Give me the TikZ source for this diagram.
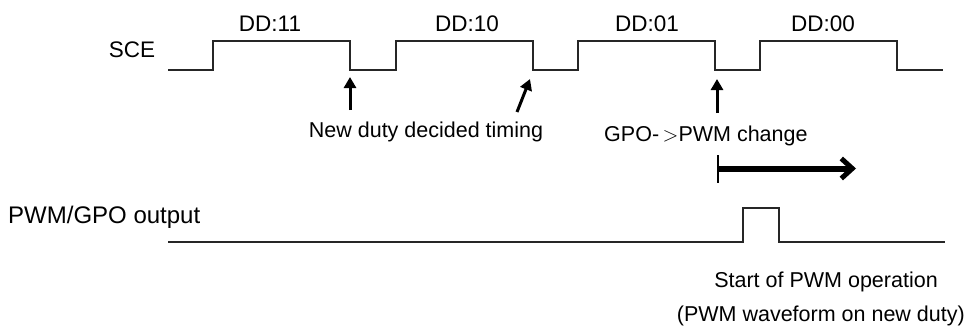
\documentclass[tikz,border=0pt]{standalone}
\usepackage{fontspec}
\setmainfont{Liberation Sans}
\usetikzlibrary{arrows.meta}
\tikzset{
  lbl/.style={inner sep=0pt, anchor=base, font=\fontsize{21.5}{24}\selectfont},
  toplbl/.style={lbl, font=\fontsize{22.5}{26}\selectfont},
  wave/.style={line width=1.4pt, draw=black!85},
  uparrow/.style={line width=3pt, -{Triangle[length=11pt,width=12pt]}},
  bigarrow/.style={line width=6pt, -{Straight Barb[length=11pt,width=20pt,line width=5pt]}},
  tick/.style={line width=2pt}
}
\begin{document}
\begin{tikzpicture}[x=1pt,y=-1pt]
\useasboundingbox (0,0) rectangle (968,329);
% SCE waveform
\draw[wave] (168,70) -- (213,70) -- (213,41) -- (350,41) -- (350,70) -- (396,70) -- (396,41)
  -- (533,41) -- (533,70) -- (578,70) -- (578,41) -- (715,41) -- (715,70) -- (760,70)
  -- (760,41) -- (897,41) -- (897,70) -- (943,70);
\node[toplbl] (sce) at (132,57) {SCE};
\node[toplbl] (dd11) at (270,32) {DD:11};
\node[toplbl] (dd10) at (467,32) {DD:10};
\node[toplbl] (dd01) at (647,32) {DD:01};
\node[toplbl] (dd00) at (823,32) {DD:00};
% arrows
\coordinate (a1s) at (350,110); \coordinate (a1e) at (350,77);
\coordinate (a2s) at (517,112); \coordinate (a2e) at (530,79);
\coordinate (a3s) at (717,113); \coordinate (a3e) at (717,79);
\draw[uparrow] (a1s) -- (a1e);
\draw[uparrow] (a2s) -- (a2e);
\draw[uparrow] (a3s) -- (a3e);
\node[lbl] (ndd) at (426,137) {New duty decided timing};
\node[lbl, anchor=base west] (chg) at (604,141) {GPO-\,$>$PWM change};
% start marker and thick arrow
\coordinate (tk1) at (718,155); \coordinate (tk2) at (718,183);
\draw[tick] (tk1) -- (tk2);
\coordinate (ba1) at (718,168.5); \coordinate (ba2) at (856,168.5);
\draw[bigarrow] (ba1) -- (ba2);
% PWM/GPO waveform
\node[lbl, anchor=base west, font=\fontsize{24}{28}\selectfont] (pgo) at (8,223) {PWM/GPO output};
\draw[wave] (168,242) -- (743,242) -- (743,208) -- (779,208) -- (779,242) -- (945,242);
\node[lbl] (st) at (826,287) {Start of PWM operation};
\node[lbl, anchor=base east] (nd) at (965,321) {(PWM waveform on new duty)};
\end{tikzpicture}
\end{document}
